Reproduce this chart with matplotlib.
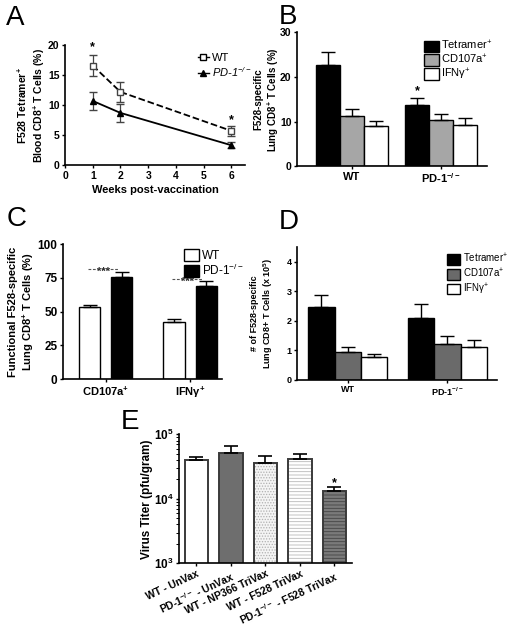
import numpy as np
import matplotlib
matplotlib.use("Agg")
import matplotlib.pyplot as plt
from matplotlib.patches import Patch
from matplotlib.lines import Line2D

# ---- data -------------------------------------------------------------
weeks = [1, 2, 6]
wt_tet = [16.6, 12.2, 5.7]
wt_tet_err = [1.7, 1.6, 0.8]
pd1_tet = [10.7, 8.7, 3.3]
pd1_tet_err = [1.5, 1.5, 0.5]

b_groups = ["WT", "PD-1$^{-/-}$"]
b_series = ["Tetramer$^{+}$", "CD107a$^{+}$", "IFN\u03b3$^{+}$"]
b_vals = [[22.7, 13.6], [11.3, 10.4], [9.1, 9.3]]
b_errs = [[3.0, 1.7], [1.4, 1.3], [1.0, 1.4]]

c_groups = ["CD107a$^{+}$", "IFN\u03b3$^{+}$"]
c_series = ["WT", "PD-1$^{-/-}$"]
c_vals = [[53.2, 42.6], [76.0, 69.1]]
c_errs = [[1.5, 2.0], [3.2, 3.2]]

d_groups = ["WT", "PD-1$^{-/-}$"]
d_series = ["Tetramer$^{+}$", "CD107a$^{+}$", "IFN\u03b3$^{+}$"]
d_vals = [[2.46, 2.10], [0.94, 1.22], [0.77, 1.11]]
d_errs = [[0.43, 0.48], [0.17, 0.28], [0.11, 0.25]]

e_labels = ["WT - UnVax", "PD-1$^{-/-}$ - UnVax", "WT - NP366 TriVax",
            "WT - F528 TriVax", "PD-1$^{-/-}$ - F528 TriVax"]
e_vals = [40000, 50700, 36400, 41000, 13200]
e_errs = [4000, 15200, 9700, 8500, 1900]

# ---- style ------------------------------------------------------------
plt.rcParams.update({
    "font.family": ["Liberation Sans", "DejaVu Sans"],
    "font.weight": "bold",
    "axes.labelweight": "bold",
    "mathtext.default": "regular",
    "axes.spines.top": False,
    "axes.spines.right": False,
    "axes.linewidth": 1.2,
    "xtick.major.width": 1.0,
    "ytick.major.width": 1.0,
    "xtick.major.size": 2.5,
    "ytick.major.size": 2.5,
    "xtick.major.pad": 1.5,
    "ytick.major.pad": 1.5,
    "hatch.linewidth": 0.6,
})

fig = plt.figure(figsize=(5.12, 6.34), dpi=100)


def letter(x, y, s):
    fig.text(x, y, s, fontsize=20, fontweight="normal", va="center", ha="left")


def up_err(ax, x, v, e, lw=1.0):
    ax.errorbar(x, v, yerr=[np.zeros(len(v)), e], fmt="none", ecolor="black",
                elinewidth=lw, capsize=5, capthick=lw)


# ---- A ----------------------------------------------------------------
axA = fig.add_axes([0.127, 0.7397, 0.352, 0.189])
axA.errorbar(weeks, wt_tet, yerr=wt_tet_err, color="black", ls="--", lw=1.3,
             marker="s", mfc="white", mec="#444444", ms=5, capsize=3,
             elinewidth=0.9, ecolor="#444444")
axA.errorbar(weeks, pd1_tet, yerr=pd1_tet_err, color="black", ls="-", lw=1.3,
             marker="^", ms=5, capsize=3, elinewidth=0.9, ecolor="#444444")
axA.set_xlim(0, 6.5)
axA.set_ylim(0, 20)
axA.set_xticks(range(7))
axA.set_yticks([0, 5, 10, 15, 20])
axA.tick_params(labelsize=7.5)
axA.set_xlabel("Weeks post-vaccination", fontsize=8, labelpad=3)
axA.set_ylabel("F528 Tetramer$^{+}$\nBlood CD8$^{+}$ T Cells (%)", fontsize=7.5)
axA.yaxis.set_label_coords(-0.10, 0.5)
axA.text(1, 19.6, "*", ha="center", va="center", fontsize=9, clip_on=False)
axA.text(6, 7.5, "*", ha="center", va="center", fontsize=9)
hA = [Line2D([], [], color="black", ls="-", marker="s", mfc="white", ms=4, lw=1.0),
      Line2D([], [], color="black", ls="-", marker="^", ms=4, lw=1.0)]
fig.legend(hA, ["WT", "PD-1$^{-/-}$"], loc="upper left",
           bbox_to_anchor=(0.375, 0.925), frameon=False, handlelength=1.0,
           handletextpad=0.3, labelspacing=0.15, borderpad=0,
           prop={"size": 8, "weight": "normal"})
leg_texts = fig.legends[-1].get_texts()
leg_texts[1].set_style("italic")

# ---- B ----------------------------------------------------------------
axB = fig.add_axes([0.580, 0.738, 0.371, 0.211])
b_centers = np.array([2.27, 5.96])
b_colors = ["black", "#a6a6a6", "white"]
for i in range(3):
    x = b_centers + (i - 1)
    axB.bar(x, b_vals[i], width=1.0, color=b_colors[i], edgecolor="black", lw=1.0)
    up_err(axB, x, b_vals[i], b_errs[i])
axB.set_xlim(0, 7.85)
axB.set_ylim(0, 30)
axB.set_yticks([0, 10, 20, 30])
axB.set_xticks(b_centers)
axB.set_xticklabels(b_groups, fontsize=8)
axB.tick_params(axis="y", labelsize=7.5)
axB.set_ylabel("F528-specific\nLung CD8$^{+}$ T Cells (%)", fontsize=7)
axB.yaxis.set_label_coords(-0.085, 0.5)
axB.text(b_centers[1] - 1, 16.9, "*", ha="center", va="center", fontsize=9)
fig.legend([Patch(fc=c, ec="black") for c in b_colors], b_series, loc="upper left",
           bbox_to_anchor=(0.818, 0.947), frameon=False, handlelength=1.3,
           handleheight=1.2, handletextpad=0.2, labelspacing=0.05, borderpad=0,
           prop={"size": 8, "weight": "normal"})

# ---- C ----------------------------------------------------------------
axC = fig.add_axes([0.123, 0.402, 0.311, 0.213])
c_centers = np.array([2.02, 6.02])
c_colors = ["white", "black"]
for i in range(2):
    x = c_centers + (i - 0.5) * 1.52
    axC.bar(x, c_vals[i], width=1.0, color=c_colors[i], edgecolor="black", lw=1.0)
    up_err(axC, x, c_vals[i], c_errs[i])
for cx, lvl in zip(c_centers, [81.7, 74.3]):
    axC.plot([cx - 0.85, cx + 0.6], [lvl, lvl], ls=(0, (2.5, 1.5)), color="#555555", lw=0.8)
    axC.text(cx - 0.1, lvl - 2, "***", ha="center", va="center", fontsize=8,
             color="#333333")
axC.set_xlim(0, 7.54)
axC.set_ylim(0, 100)
axC.set_yticks([0, 25, 50, 75, 100])
axC.set_xticks(c_centers)
axC.set_xticklabels(c_groups, fontsize=8)
axC.tick_params(axis="y", labelsize=8.5)
axC.set_ylabel("Functional F528-specific\nLung CD8$^{+}$ T Cells (%)", fontsize=8)
axC.yaxis.set_label_coords(-0.17, 0.5)
fig.legend([Patch(fc=c, ec="black") for c in c_colors], c_series, loc="upper left",
           bbox_to_anchor=(0.348, 0.617), frameon=False, handlelength=1.3,
           handleheight=1.2, handletextpad=0.2, labelspacing=0.05, borderpad=0,
           prop={"size": 8.5, "weight": "normal"})

# ---- D ----------------------------------------------------------------
axD = fig.add_axes([0.581, 0.401, 0.389, 0.209])
d_centers = np.array([1.91, 5.69])
d_colors = ["black", "#6a6a6a", "white"]
for i in range(3):
    x = d_centers + (i - 1)
    axD.bar(x, d_vals[i], width=1.0, color=d_colors[i], edgecolor="black", lw=1.0)
    up_err(axD, x, d_vals[i], d_errs[i])
axD.set_xlim(0, 7.56)
axD.set_ylim(0, 4.5)
axD.set_yticks([0, 1, 2, 3, 4])
axD.set_xticks(d_centers)
axD.set_xticklabels(d_groups, fontsize=6.5)
axD.tick_params(axis="y", labelsize=6.5)
axD.set_ylabel("# of F528-specific\nLung CD8+ T Cells (x 10$^{5}$)", fontsize=6.5)
axD.yaxis.set_label_coords(-0.115, 0.5)
fig.legend([Patch(fc=c, ec="black") for c in d_colors], d_series, loc="upper left",
           bbox_to_anchor=(0.864, 0.610), frameon=False, handlelength=1.3,
           handleheight=1.3, handletextpad=0.3, labelspacing=0.15, borderpad=0,
           prop={"size": 7, "weight": "normal"})

# ---- E ----------------------------------------------------------------
axE = fig.add_axes([0.350, 0.1115, 0.337, 0.2035])
axE.set_yscale("log")
e_x = np.arange(5) + 0.5
e_face = ["white", "#6e6e6e", "#f4f4f4", "white", "#7a7a7a"]
e_hatch = [None, None, "......", "-----", "-----"]
e_hcol = ["white", "#6e6e6e", "#b0b0b0", "#b8b8b8", "#444444"]
for k in range(5):
    axE.bar(e_x[k], e_vals[k], width=0.68, bottom=1e-9, color=e_face[k],
            hatch=e_hatch[k], edgecolor=e_hcol[k], lw=0)
    axE.bar(e_x[k], e_vals[k], width=0.68, bottom=1e-9, fill=False,
            edgecolor="#3a3a3a", lw=1.4)
up_err(axE, e_x, e_vals, e_errs, lw=1.2)
axE.text(e_x[4], 17600, "*", ha="center", va="center", fontsize=9)
axE.set_xlim(0, 5)
axE.set_ylim(1e3, 1e5)
axE.set_yticks([1e3, 1e4, 1e5])
axE.tick_params(axis="y", labelsize=8.5)
axE.tick_params(axis="y", which="minor", length=2, width=0.7, labelleft=False)
axE.set_xticks(e_x)
axE.set_xticklabels(e_labels, fontsize=7.5, rotation=25, ha="right",
                    rotation_mode="anchor")
axE.set_ylabel("Virus Titer (pfu/gram)", fontsize=8.5)
axE.yaxis.set_label_coords(-0.15, 0.5)

# ---- panel letters ----------------------------------------------------
letter(0.012, 0.972, "A")
letter(0.545, 0.973, "B")
letter(0.012, 0.654, "C")
letter(0.545, 0.650, "D")
letter(0.236, 0.334, "E")

fig.savefig("out.png", dpi=100)
